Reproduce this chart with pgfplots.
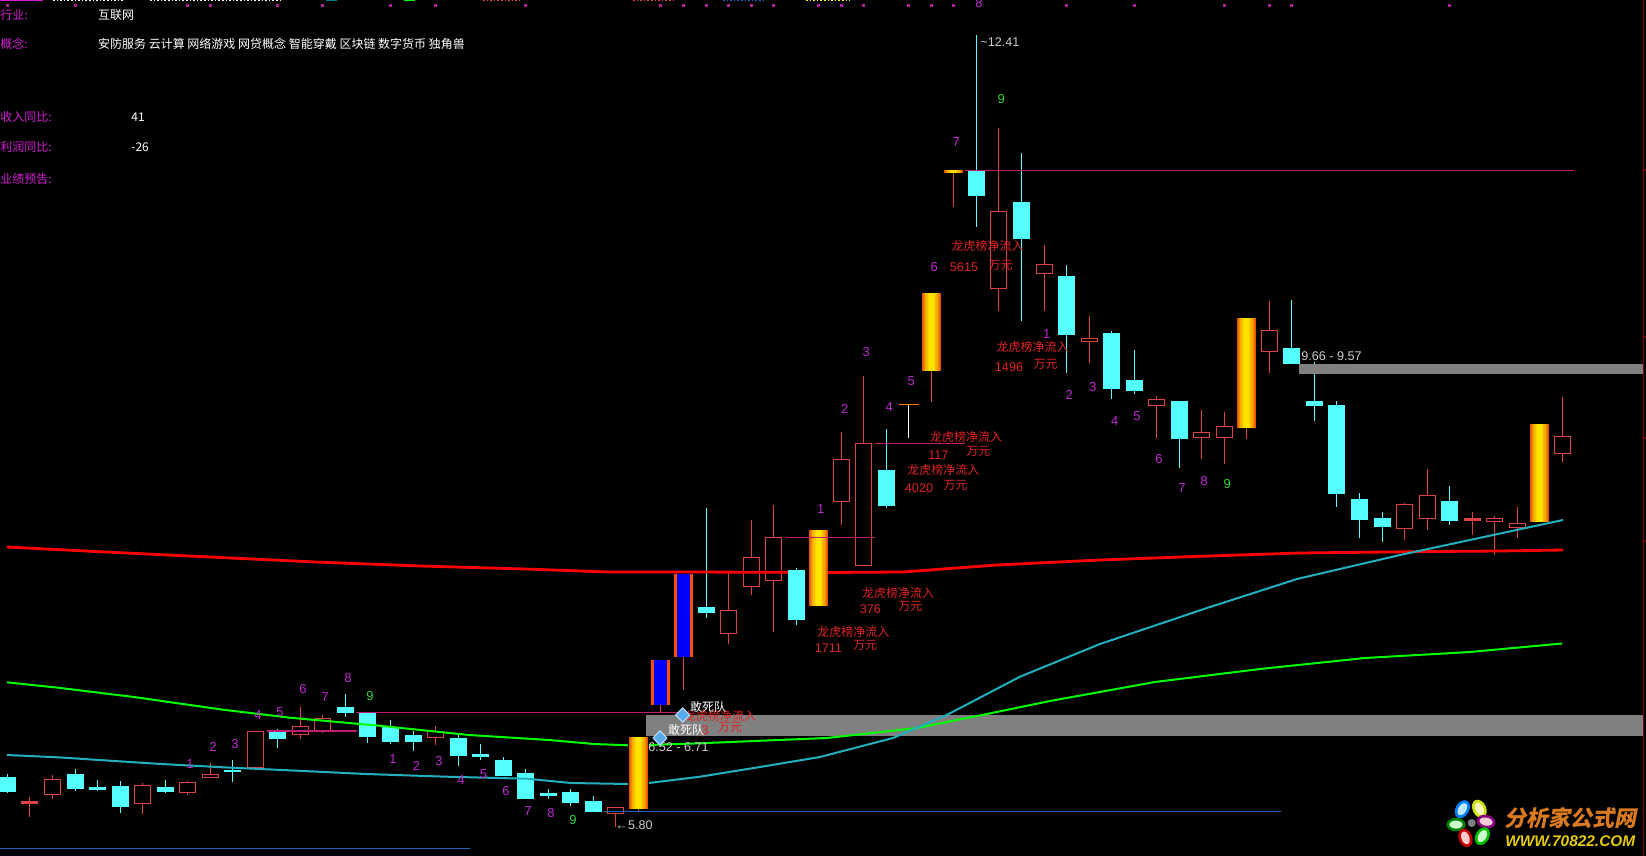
\documentclass[border=0pt]{standalone}
\usepackage{fontspec}
\setmainfont{Liberation Sans}
\newfontfamily\cjk{Noto Sans CJK SC}
\newfontfamily\cjklogo[FakeSlant=0.2]{Noto Sans CJK SC}
\usepackage{pgfplots}
\usepgfplotslibrary{statistics}
\pgfplotsset{compat=1.18}

\definecolor{cred}{RGB}{222,66,66}
\definecolor{ccy}{RGB}{84,255,255}
\definecolor{gedge}{RGB}{232,80,0}
\definecolor{gmid}{RGB}{255,228,0}
\definecolor{pinkl}{RGB}{190,30,110}
\definecolor{bluel}{RGB}{30,100,190}
\definecolor{purp}{RGB}{190,40,210}
\definecolor{dots}{RGB}{180,30,150}
\definecolor{grn}{RGB}{50,210,50}
\definecolor{malab}{RGB}{210,30,210}
\definecolor{band}{RGB}{128,128,128}
\definecolor{lbl}{RGB}{225,35,35}
\definecolor{ltxt}{RGB}{205,205,205}
\definecolor{matl}{RGB}{34,176,190}

\pgfplotsset{
  boxplot/draw direction=y,
  rc/.style={draw=cred,line width=0.5pt,boxplot/every box/.style={fill=black}},
  rf/.style={draw=cred,line width=0.5pt,boxplot/every box/.style={fill=cred}},
  cc/.style={draw=ccy,line width=0.5pt,boxplot/every box/.style={fill=ccy}},
  gl/.style={draw=none,boxplot/every box/.style={draw=none,fill=gmid!#1!gedge},boxplot/every median/.style={draw=none}},
}
% style, box width, x, high, top, bottom, low (all in pixels of the picture)
\newcommand\bx[7]{\addplot[#1,boxplot prepared={draw position=#3,box extend=#2,whisker extend=0,
  lower whisker=#4,lower quartile=#5,median=#5,upper quartile=#6,upper whisker=#7}] coordinates {};}
\newcommand\R[5]{\bx{rc}{16}{#1}{#2}{#3}{#4}{#5}}
\newcommand\F[5]{\bx{rf}{16}{#1}{#2}{#3}{#4}{#5}}
\newcommand\C[5]{\bx{cc}{16}{#1}{#2}{#3}{#4}{#5}}
% gold bars: nested boxes give the edge-to-centre gradient
\newcommand\G[5]{\bx{draw=cred,line width=0.5pt,boxplot/every box/.style={draw=none,fill=gedge},boxplot/every median/.style={draw=none}}{19}{#1}{#2}{#3}{#4}{#5}
  \bx{gl=20}{17}{#1}{#3}{#3}{#4}{#4}
  \bx{gl=40}{15}{#1}{#3}{#3}{#4}{#4}
  \bx{gl=60}{12.5}{#1}{#3}{#3}{#4}{#4}
  \bx{gl=75}{10}{#1}{#3}{#3}{#4}{#4}
  \bx{gl=90}{7.5}{#1}{#3}{#3}{#4}{#4}
  \bx{gl=100}{5}{#1}{#3}{#3}{#4}{#4}}
\newcommand\B[5]{\bx{draw=cred,line width=0.5pt,boxplot/every box/.style={draw=none,fill=orange!60!red},boxplot/every median/.style={draw=none}}{19}{#1}{#2}{#3}{#4}{#5}
  \bx{draw=none,boxplot/every box/.style={draw=none,fill=blue},boxplot/every median/.style={draw=none}}{13}{#1}{#3}{#3}{#4}{#4}}

\newcommand\num[3]{\node[text=#1,inner sep=0pt,font=\fontsize{6.5}{7}\selectfont] at (#2) {#3};}
\newcommand\zh[2]{\node[text=lbl,inner sep=0pt,font=\fontsize{6}{7}\selectfont\cjk] at (#1) {#2};}
\newcommand\rv[2]{\node[text=lbl,inner sep=0pt,font=\fontsize{6.3}{7}\selectfont] at (#1) {#2};}
\newcommand\info[3]{\node[text=#1,inner sep=0pt,anchor=west,font=\fontsize{6}{7}\selectfont\cjk] at (#2) {#3};}
% logo petal: colours, x, y, angle
\newcommand\petal[5]{\fill[#1,shift={(#3,#4)},rotate=#5] (0,0) ellipse (3.4pt and 4.8pt);
  \fill[#2,shift={(#3,#4)},rotate=#5] (0,0) ellipse (2pt and 3.3pt);}

\begin{document}
\begin{tikzpicture}
\begin{axis}[
  width=823pt,height=428pt,scale only axis,
  xmin=0,xmax=1646,ymin=0,ymax=856,y dir=reverse,
  ticks=none,axis line style={draw=none},
  axis background/.style={fill=black},
]
% candles, left part
\C{7.6}{774}{777}{791}{793}
\F{29.5}{797}{801}{803}{817}
\R{52.7}{775}{779}{794}{799}
\C{75.4}{769}{774}{788}{791}
\C{97.3}{780}{787}{789}{791}
\C{120.5}{781}{786}{806}{813}
\R{142.4}{783}{785}{803}{814}
\C{165.6}{780}{787}{791}{793}
\R{187.5}{781}{782}{792}{795}
\R{210.3}{763}{774}{777}{777}
\C{232.6}{760}{770}{771}{782}
\R{255.4}{731}{731}{767}{767}
\C{277.7}{729}{731}{738}{748}
\R{300.4}{707}{726}{734}{739}
\R{322.3}{715}{718}{731}{733}
\C{345.5}{694}{707}{712}{717}
\C{367.4}{712}{713}{736}{743}
\C{390.6}{720}{727}{741}{744}
\C{413.4}{731}{735}{741}{751}
\R{435.3}{726}{731}{737}{745}
\C{458.5}{735}{738}{755}{766}
\C{480.4}{744}{754}{756}{760}
\C{503.6}{757}{760}{775}{776}
\C{525.4}{769}{773}{798}{798}
\C{548.7}{789}{793}{795}{799}
\C{570.5}{789}{792}{802}{806}
\C{593.3}{796}{801}{811}{812}
\R{615.6}{807}{807}{813}{827}
\G{638.4}{737}{737}{809}{811}
\B{660.3}{660}{660}{705}{713}
\B{683.3}{574}{574}{657}{690}
\C{706.3}{508}{607}{612}{618}
\R{728.3}{573}{610}{633}{644}
\R{751.3}{520}{557}{586}{595}
\R{773.3}{505}{537}{580}{632}
\C{796.3}{568}{570}{619}{625}
\G{818.3}{530}{530}{606}{606}
\R{841.3}{432}{459}{501}{525}
\R{863.3}{376}{443}{565}{565}
\C{886.3}{429}{470}{505}{508}
\bx{draw=white,line width=0.5pt,boxplot/every box/.style={fill=orange,draw=orange},boxplot/every median/.style={draw=orange}}{19}{908.7}{404}{404}{404.6}{438}
\G{931.3}{293}{293}{371}{402}
\G{953.3}{170}{170}{173}{207}
\C{976.3}{35}{171}{196}{227}
\R{998.3}{128}{212}{288}{311}
\C{1021.3}{153}{203}{239}{321}
\R{1044.3}{245}{265}{274}{311}
\C{1066.3}{265}{277}{334}{373}
\R{1089.3}{316}{338}{341}{363}
\C{1111.3}{331}{333}{388}{399}
\C{1134.3}{350}{380}{390}{394}
\R{1156.7}{396}{399}{405}{438}
\C{1179}{401}{401}{438}{468}
\R{1201}{410}{432}{437}{459}
\R{1224.3}{412}{426}{437}{464}
\G{1246.3}{318}{318}{428}{439}
\R{1269.3}{301}{330}{351}{373}
\C{1291.3}{300}{348}{363}{363}
\C{1314.7}{362}{401}{405}{421}
\C{1336.3}{401}{405}{493}{507}
\C{1359.3}{493}{499}{519}{538}
\C{1382.3}{512}{518}{526}{542}
\R{1404.3}{503}{504}{528}{540}
\R{1427.3}{469}{495}{518}{530}
\C{1449.3}{486}{501}{520}{525}
\F{1472.3}{512}{518}{520}{535}
\R{1494.7}{516}{518}{521}{555}
\R{1517.3}{507}{523}{527}{538}
\G{1539.3}{424}{424}{522}{522}
\R{1562.3}{397}{436}{453}{462}

% gray price bands
\addplot[fill=band,draw=none] coordinates {(1299,364)(1643,364)(1643,373.7)(1299,373.7)} --cycle;
\addplot[fill=band,draw=none] coordinates {(646,715)(1643,715)(1643,736)(646,736)} --cycle;

% horizontal levels
\addplot[pinkl,line width=0.6pt] coordinates {(965,170.7)(1574,170.7)};
\addplot[pinkl,line width=0.6pt] coordinates {(875,443.3)(965,443.3)};
\addplot[pinkl,line width=0.6pt] coordinates {(785,537.3)(875,537.3)};
\addplot[pinkl,line width=0.6pt] coordinates {(356,712.3)(683,712.3)};
\addplot[pinkl,line width=0.6pt] coordinates {(266.5,731)(357,731)};
\addplot[bluel,line width=0.6pt] coordinates {(0,848.3)(470,848.3)};
\addplot[bluel,line width=0.6pt] coordinates {(604,811.3)(1281,811.3)};

% moving averages (broken where a bar stands in front)
\addplot[red,line width=1.4pt] coordinates {(7,547)(105,552)(210,557)(315,562)(420,566)(525,569)(609,572)(680,572)(788,572.3)};
\addplot[red,line width=1.4pt] coordinates {(828,572.5)(903,572)(997,565)(1100,560)(1200,556.3)(1300,553)(1413,551.7)(1500,551)(1563,550)};
\addplot[green,line width=1pt] coordinates {(7,682.3)(58,687.7)(134,697)(223,709.7)(290,717.7)(379,725.7)(469,735)(549,740)(594,744)(628,745.3)};
\addplot[green,line width=1pt] coordinates {(649,745)(700,743.3)(827,738)(917,728)(987,714)(1050,701)(1155,682)(1260,669)(1365,658)(1470,652)(1562,643.5)};
\addplot[matl,line width=1pt] coordinates {(7,755)(58,757.3)(156,763.7)(223,767.3)(303.6,771)(366,774)(446,776.7)(527,778.7)(571,783)(628,784)};
\addplot[matl,line width=1pt] coordinates {(649,783)(700,776.7)(760,767)(820,757)(893,738)(946.7,715)(1020,676.7)(1100,644)(1207,608)(1297,579)(1400,555)(1563,520)};

% marks along the top edge
\addplot[only marks,mark=square*,mark size=0.5pt,dots] coordinates {(7,5)(75,5)(187,5)(210,5)(277,5)(322,5)(390,5)(435,5)(525,5)(660,5)(683,5)(706,5)(728,5)(751,5)(773,5)(818,5)(841,5)(863,5)(908,5)(931,5)(953,5)(1066,5)(1134,5)(1224,5)(1269,5)(1291,5)(1449,5)};
% cut-off header text at the very top
\addplot[malab,line width=0.8pt] coordinates {(0,0.6)(43,0.6)};
\addplot[white,line width=0.8pt,densely dotted] coordinates {(53,0.6)(123,0.6)};
\addplot[white,line width=0.8pt,densely dotted] coordinates {(150,0.6)(280,0.6)};
\addplot[teal,line width=0.8pt] coordinates {(326,0.6)(337,0.6)};
\addplot[green,line width=0.8pt] coordinates {(404,0.6)(415,0.6)};
\addplot[cred,line width=0.8pt,densely dotted] coordinates {(483,0.6)(520,0.6)};
\addplot[cred,line width=0.8pt,densely dotted] coordinates {(633,0.6)(675,0.6)};
\addplot[bluel,line width=0.8pt,densely dotted] coordinates {(723,0.6)(765,0.6)};
\addplot[yellow,line width=0.8pt,densely dotted] coordinates {(806,0.6)(850,0.6)};

% right edge scale
\addplot[red!45!black,line width=0.6pt] coordinates {(1643.5,0)(1643.5,856)};
\addplot[red!45!black,line width=0.6pt] coordinates {(1643.5,170)(1646,170)};
\addplot[red!45!black,line width=0.6pt] coordinates {(1643.5,337)(1646,337)};
\addplot[red!45!black,line width=0.6pt] coordinates {(1643.5,438)(1646,438)};
\addplot[red!45!black,line width=0.6pt] coordinates {(1643.5,541)(1646,541)};

% diamonds
\definecolor{gem}{RGB}{90,170,235}
\definecolor{gemb}{RGB}{190,225,250}
\addplot[only marks,mark=diamond*,mark size=3.6pt,mark options={xscale=1.3,fill=gem,draw=gemb,line width=0.5pt}] coordinates {(682.7,715)(660,738)};

% count labels
\num{purp}{258,714.7}{4}\num{purp}{280,712}{5}\num{purp}{303,689}{6}\num{purp}{325,696.7}{7}\num{purp}{348,677.7}{8}\num{grn}{370,695.7}{9}
\num{purp}{190,764}{1}\num{purp}{213,746.7}{2}\num{purp}{235,743.7}{3}
\num{purp}{393,758.7}{1}\num{purp}{416.5,765.7}{2}\num{purp}{439,760.7}{3}\num{purp}{461,780}{4}\num{purp}{483.5,774.3}{5}\num{purp}{506,790.7}{6}\num{purp}{528,811}{7}\num{purp}{551,812.7}{8}\num{grn}{573,819.7}{9}
\num{purp}{820.7,509.3}{1}\num{purp}{844.7,409}{2}\num{purp}{866.3,351.7}{3}\num{purp}{889.3,406.7}{4}\num{purp}{911.3,380.7}{5}\num{purp}{934.3,267.3}{6}\num{purp}{956.3,142.3}{7}\num{purp}{979,3}{8}\num{grn}{1001.3,99.3}{9}
\num{purp}{1046.7,334.3}{1}\num{purp}{1069.3,395}{2}\num{purp}{1092.7,386.7}{3}\num{purp}{1114.8,421}{4}\num{purp}{1137,415.7}{5}\num{purp}{1159,458.7}{6}\num{purp}{1182,488}{7}\num{purp}{1204.3,480.7}{8}\num{grn}{1227.3,484.3}{9}

% net inflow notes
\zh{987.7,246}{龙虎榜净流入}\rv{964,266.7}{5615}\zh{1000.7,265.7}{万元}
\zh{1032.7,347.3}{龙虎榜净流入}\rv{1009,366.7}{1496}\zh{1045.7,364.7}{万元}
\zh{966,436.7}{龙虎榜净流入}\rv{938.3,454.7}{117}\zh{978.3,451.7}{万元}
\zh{943.3,470}{龙虎榜净流入}\rv{919,488.3}{4020}\zh{955.7,485.3}{万元}
\zh{898,593.3}{龙虎榜净流入}\rv{870.3,609}{376}\zh{910.3,606.7}{万元}
\zh{853.3,632.3}{龙虎榜净流入}\rv{828.3,648.3}{1711}\zh{865,645.7}{万元}
\zh{720,716}{龙虎榜净流入}\rv{705,730.5}{3}\zh{730,727}{万元}

% price notes
\node[text=white,inner sep=0pt,font=\fontsize{6}{7}\selectfont\cjk] at (708,707) {敢死队};
\node[text=white,inner sep=0pt,font=\fontsize{6}{7}\selectfont\cjk] at (686,730) {敢死队};
\node[text=ltxt,inner sep=0pt,anchor=west,font=\fontsize{6.3}{7}\selectfont] at (648,747) {6.52 - 6.71};
\node[text=ltxt,inner sep=0pt,anchor=west,font=\fontsize{6.3}{7}\selectfont] at (1301,355.7) {9.66 - 9.57};
\node[text=ltxt,inner sep=0pt,anchor=west,font=\fontsize{6.3}{7}\selectfont] at (980,41.7) {\textasciitilde 12.41};
\node[text=ltxt,inner sep=0pt,anchor=west,font=\fontsize{6.3}{7}\selectfont] at (615,824.7) {←5.80};

% info block
\info{malab}{0,14.7}{行业:}\info{white}{97.7,14.7}{互联网}
\info{malab}{0,44}{概念:}\info{white}{97.7,44}{安防服务 云计算 网络游戏 网贷概念 智能穿戴 区块链 数字货币 独角兽}
\info{malab}{0,117.3}{收入同比:}\info{white}{131,117.3}{41}
\info{malab}{0,147}{利润同比:}\info{white}{131,147}{-26}
\info{malab}{0,178.5}{业绩预告:}

% logo
\definecolor{logoa}{RGB}{218,122,32}
\definecolor{logob}{RGB}{228,202,12}
\node[text=logoa,inner sep=0pt,anchor=west,font=\fontsize{11}{12}\selectfont\cjklogo\bfseries] at (1504,817.7) {分析家公式网};
\node[text=logob,inner sep=0pt,anchor=west,font=\fontsize{7.7}{9}\selectfont\bfseries\itshape] at (1505,840.7) {WWW.70822.COM};
\petal{blue!50!cyan}{white!75!cyan}{1462}{809}{-30}
\petal{yellow!80!green}{white!75!yellow}{1479}{809}{25}
\petal{purple!70!blue}{white!80!purple}{1486}{822}{80}
\petal{green!50!black}{white!80!green}{1456}{825}{90}
\petal{red!75!black}{white!80!red}{1465}{838}{20}
\petal{green!75!black}{white!80!green}{1482}{836}{-30}
\fill[gray] (1471.7,823) circle (2pt);
\end{axis}
\end{tikzpicture}
\end{document}
